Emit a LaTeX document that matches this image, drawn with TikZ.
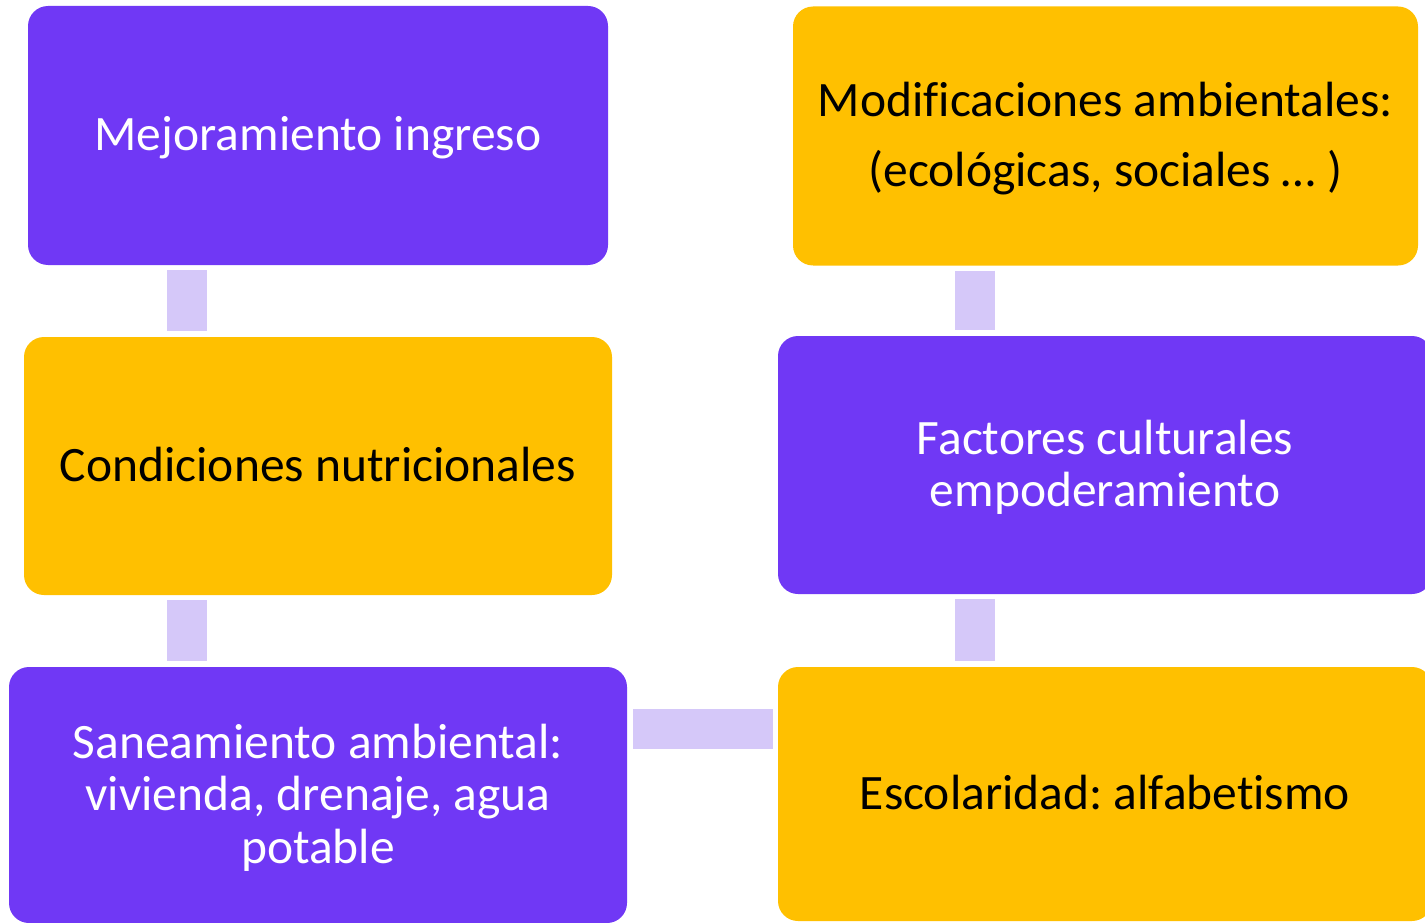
\documentclass[tikz,border=0pt]{standalone}
\usepackage{fontspec}
\setmainfont[Ligatures=NoCommon]{Carlito}
\frenchspacing
\definecolor{vio}{HTML}{7038F5}
\definecolor{gold}{HTML}{FFC000}
\definecolor{lav}{HTML}{D5C8F9}
\tikzset{
  box/.style={rounded corners=20pt, inner sep=0pt, draw=none, align=center,
    font=\fontsize{49.5}{52.5}\selectfont, text height=31pt, text depth=0pt},
  vbox/.style={box, fill=vio, text=white},
  gbox/.style={box, fill=gold, text=black},
  conn/.style={draw=lav, line width=40pt}
}
\begin{document}
\begin{tikzpicture}[x=1pt,y=-1pt]
\useasboundingbox (0,0) rectangle (1425,923);
\clip (0,0) rectangle (1425,923);
\node[vbox, minimum width=580pt, minimum height=259pt] (b1) at (318,135.5) {Mejoramiento ingreso};
\node[gbox, minimum width=625pt, minimum height=259pt, text height=101pt] (b2) at (1105.5,136) {Modificaciones ambientales:\\[17.5pt](ecológicas, sociales … )};
\node[gbox, minimum width=588pt, minimum height=258pt] (b3) at (318,466) {Condiciones nutricionales};
\node[vbox, minimum width=654pt, minimum height=258pt, text height=83.5pt] (b4) at (1105,465) {Factores culturales\\empoderamiento};
\node[vbox, minimum width=618pt, minimum height=256pt, text height=136pt] (b5) at (318,795) {Saneamiento ambiental:\\vivienda, drenaje, agua\\potable};
\node[gbox, minimum width=654pt, minimum height=254pt] (b6) at (1105,794) {Escolaridad: alfabetismo};
\coordinate (cl) at (187,0);
\coordinate (cr) at (975,0);
\coordinate (ch) at (0,729);
\draw[conn, shorten <=5pt, shorten >=6pt] (b1.south -| cl) -- (b3.north -| cl);
\draw[conn, shorten <=5pt, shorten >=6pt] (b3.south -| cl) -- (b5.north -| cl);
\draw[conn, shorten <=5pt, shorten >=6pt] (b2.south -| cr) -- (b4.north -| cr);
\draw[conn, shorten <=5pt, shorten >=6pt] (b4.south -| cr) -- (b6.north -| cr);
\draw[conn, shorten <=6pt, shorten >=5pt] (b5.east |- ch) -- (b6.west |- ch);
\end{tikzpicture}
\end{document}
